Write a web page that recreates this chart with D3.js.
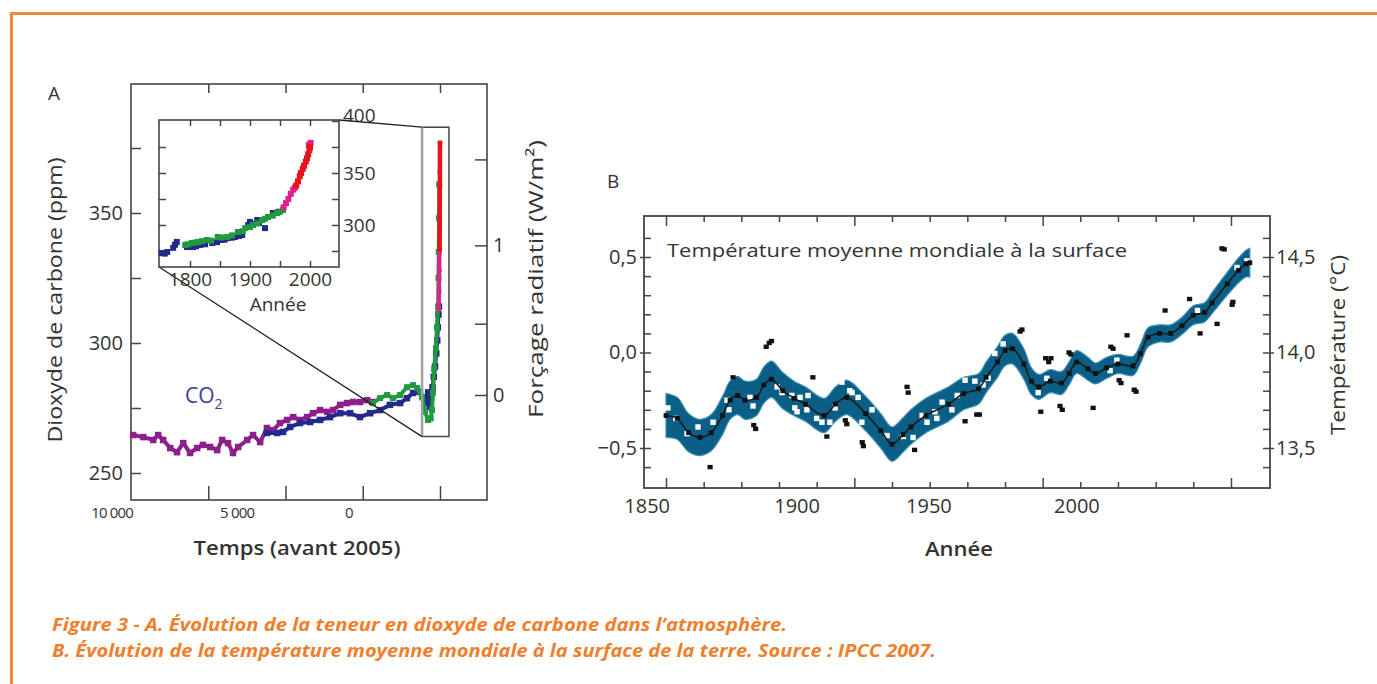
<!DOCTYPE html>
<html>
<head>
<meta charset="utf-8">
<script src="https://cdn.jsdelivr.net/npm/d3@7"></script>
<style>
  body { margin: 0; background: #fff; }
  svg text { font-family: "Open Sans", "Noto Sans", sans-serif; fill: #333; }
</style>
</head>
<body>
<svg id="chart" width="1377" height="684"></svg>
<script>
// ---------- Data: panel A (CO2, years before 2005 / ppm) ----------
const co2Purple = [[9930,264.6],[9600,263.8],[9280,262.7],[9120,264.6],[8960,262.7],[8730,259.6],[8510,258],[8310,261.5],
  [8090,257.7],[7860,259.6],[7670,260.8],[7440,260],[7210,258.8],[7050,262.7],[6860,261.5],[6700,257.7],[6530,260],
  [6240,262.7],[6050,264.6],[5820,261.9],[5600,267.3],[5400,266.5],[5180,269.2],[4950,270.4],[4750,271.5],[4530,270.4],
  [4300,271.5],[4110,273],[3880,274.2],[3650,273.5],[3460,274.2],[3230,276.2],[3010,276.9],[2810,277.3],[2590,277.3],
  [2360,278],[2200,277.3]];
const co2Blue = [[5600,265.4],[5270,265.4],[5080,265.8],[4850,267.7],[4530,269.2],[4200,269.6],[3880,270.4],[3560,271.5],
  [3230,273],[2910,273],[2590,271.5],[2260,273],[1940,274.2],[1620,276.2],[1290,276.9],[1070,278.8],[870,280.8],
  [650,281.2],[550,279.2],[480,277],[420,276.9],[380,281],[330,275.4],[290,279],[240,283],[200,287],[160,291],
  [120,296],[90,301],[70,306],[50,311],[35,314]];
const co2Green = [[2170,276.9],[1940,278.8],[1710,280],[1520,278.8],[1290,280],[1070,283],[870,283.8],[740,282.7],
  [580,279.2],[485,273.5],[390,270.4],[300,271],[260,274.2],[230,280.8],[190,290],[130,298],[100,306],[60,314],
  [50,325],[40,335],[30,348],[25,361]];
const co2Pink = [[40,313],[30,320],[22,328],[14,336]];
const co2Red = [[12,336],[9,346],[6,356],[3,366],[0,377]];

const co2TickValues = [7500, 5000, 2500, 0];
const co2TickLabels = ["10 000", "5 000", "0"];
const co2TickLabelAt = [10610, 6565, 2945];
const ppmTicks = [250, 275, 300, 325, 350, 375];
const forcingTicks = [0, 0.5, 1, 1.5];
const forcingLabels = ["0", "", "1", ""];

// inset (year / ppm)
const insetBlue = [[1753,273],[1758,272.5],[1762,274],[1772,278],[1775,281],[1778,283.7],[1795,278.8],[1800,280],
  [1805,278.8],[1810,279.5],[1817,280.8],[1825,281.5],[1837,282.7],[1845,283.5],[1853,285.6],[1858,286],[1863,287.5],
  [1870,287.8],[1875,288.5],[1882,289.5],[1887,290.4],[1897,300],[1900,303],[1905,301],[1912,304.8],[1915,302],
  [1925,297],[1938,311.5],[1947,312.5]];
const insetGreen = [[1792,280.8],[1797,281.5],[1803,282.7],[1808,283],[1813,283.7],[1820,284.5],[1828,285.6],[1835,285],
  [1846,288.5],[1852,288],[1862,288.5],[1870,290],[1880,293.3],[1888,294],[1892,297],[1900,298],[1905,300],
  [1913,301.5],[1920,304.8],[1925,306],[1930,307.7],[1938,309],[1945,311.5],[1950,313],[1955,314.4]];
const insetPink = [[1956,317],[1960,321],[1964,325],[1968,330],[1972,334],[1975,336],[1998,377],[2001,379]];
const insetRed = [[1977,338],[1980,342],[1983,347],[1985,350],[1988,354],[1990,357],[1993,361],[1995,364],
  [1997,368],[1999,372],[2000,375]];
const insetYearTicks = [1800, 1850, 1900, 1950, 2000];
const insetPpmTicks = [275, 300, 325, 350, 375, 400];

// ---------- Data: panel B (temperature anomaly) ----------
const tempYears = [1850,1853,1856,1859,1862,1865,1867,1869,1871,1874,1876,1878,1881,1884,1887,1892,1895,1898,1903,1907,
  1910,1913,1915,1919,1925,1929,1933,1935,1938,1940,1942,1945,1947,1949,1952,1955,1957,1959,1962,1964,1967,1970,
  1974,1976,1978,1981,1984,1987,1990,1993,1995,1999,2002,2004,2005];
const tempSmooth = [-0.33,-0.345,-0.42,-0.445,-0.42,-0.33,-0.25,-0.225,-0.25,-0.235,-0.17,-0.14,-0.2,-0.24,-0.27,-0.33,
  -0.27,-0.235,-0.32,-0.41,-0.48,-0.43,-0.39,-0.33,-0.27,-0.215,-0.19,-0.13,-0.05,0.01,0.02,-0.06,-0.15,-0.18,-0.15,
  -0.16,-0.11,-0.05,-0.085,-0.11,-0.08,-0.06,-0.07,-0.005,0.08,0.10,0.10,0.14,0.195,0.21,0.26,0.36,0.43,0.465,0.47];
const tempBand = [0.115,0.11,0.1,0.095,0.095,0.1,0.1,0.1,0.1,0.095,0.095,0.095,0.095,0.09,0.09,0.09,0.09,0.09,0.09,0.09,
  0.09,0.09,0.09,0.09,0.09,0.085,0.08,0.08,0.08,0.08,0.08,0.08,0.07,0.065,0.06,0.06,0.06,0.06,0.06,0.055,0.055,0.05,
  0.05,0.05,0.05,0.045,0.045,0.045,0.05,0.05,0.055,0.06,0.065,0.07,0.075];
const tempWhite = [[1850.5,-0.29],[1852.6,-0.345],[1855.6,-0.425],[1858.5,-0.39],[1862.5,-0.365],[1866.2,-0.25],
  [1866.7,-0.30],[1872.3,-0.235],[1873.1,-0.28],[1879.5,-0.18],[1880.8,-0.21],[1883.4,-0.225],[1884.2,-0.29],
  [1884.8,-0.31],[1885.6,-0.235],[1887.4,-0.30],[1887.7,-0.225],[1890,-0.345],[1891.4,-0.365],[1893.5,-0.365],
  [1894.9,-0.29],[1896.7,-0.155],[1898.8,-0.20],[1899.4,-0.21],[1901,-0.235],[1902,-0.365],[1904.7,-0.30],
  [1908.7,-0.435],[1913,-0.44],[1915.6,-0.445],[1918,-0.33],[1919.3,-0.365],[1921.4,-0.31],[1921.9,-0.345],
  [1923.3,-0.26],[1925.9,-0.30],[1927.3,-0.225],[1929.4,-0.145],[1932,-0.15],[1934.2,-0.17],[1935.5,-0.135],
  [1937.3,-0.005],[1939.5,0.045],[1948.8,-0.21],[1951.1,-0.135],[1967.9,-0.095],[1969.7,-0.04],[1991.1,0.22],
  [2001.6,0.445],[2004.2,0.48]];
const tempBlack = [[1861.7,-0.60],[1867.8,-0.13],[1873.3,-0.38],[1873.8,-0.40],[1876.6,0.03],[1877.4,0.05],[1878,0.06],
  [1889,-0.13],[1892.7,-0.44],[1897.6,-0.355],[1898,-0.375],[1902.1,-0.47],[1902.4,-0.49],[1914,-0.18],[1914.3,-0.21],
  [1916,-0.51],[1929.4,-0.36],[1932.5,-0.325],[1933.2,-0.325],[1944,0.11],[1944.5,0.12],[1949.5,-0.31],[1950.8,-0.03],
  [1951.6,-0.05],[1952.2,-0.03],[1954.6,-0.28],[1955.2,-0.30],[1957,0.0],[1957.5,-0.01],[1963.4,-0.29],[1968.1,0.03],
  [1968.7,0.02],[1970.3,-0.145],[1970.8,-0.16],[1972.4,0.09],[1974.3,-0.195],[1974.8,-0.205],[1982.5,0.22],[1989,0.28],
  [1991.8,0.10],[1996.3,0.15],[1997.6,0.545],[1998.2,0.54],[2000.3,0.25],[2000.5,0.265]];
const yearTicks = [1850,1860,1870,1880,1890,1900,1910,1920,1930,1940,1950,1960,1970,1980,1990,2000];
const tempTickLabels = ["1850", "1900", "1950", "2000"];
const tempTickLabelAt = [1845, 1884.8, 1919.8, 1959.1];
const anomalyTicks = [-0.6,-0.5,-0.4,-0.3,-0.2,-0.1,0,0.1,0.2,0.3,0.4,0.5,0.6];
const celsiusTicks = [13.4,13.5,13.6,13.7,13.8,13.9,14.0,14.1,14.2,14.3,14.4,14.5,14.6];

// ---------- Drawing ----------
const svg = d3.select("#chart");
const grey = "#454545";
const FONT = '"Open Sans", "Noto Sans", sans-serif';
const comma = d => d3.format(".1f")(d).replace(".", ",").replace("-", "\u2212");
const isHalf = d => Math.abs(d * 2 - Math.round(d * 2)) < 1e-6;

function tidy(g, fs) {
    g.attr("font-family", FONT).attr("font-size", fs || 19);
    g.select(".domain").remove();
    g.selectAll(".tick line").attr("stroke", grey).attr("stroke-width", 1.5);
    g.selectAll(".tick text").attr("fill", "#333");
}

// orange frame
svg.append("path")
   .attr("d", "M11.5,684 V13.5 H1377")
   .attr("fill", "none")
   .attr("stroke", "#f0883a")
   .attr("stroke-width", 3);

// ===== Panel A =====
const A = { left: 131, right: 487, top: 84, bottom: 500 };
const xA = d3.scaleLinear().domain([10000, 0]).range([131, 440]);
const yA = d3.scaleLinear().domain([250, 400]).range([473, 83]);
const ppmFromForcing = f => 280 * Math.exp(f / 5.35);

svg.append("text").attr("x", 48).attr("y", 100).style("font-size", "19px").text("A");

svg.append("rect")
   .attr("x", A.left).attr("y", A.top)
   .attr("width", A.right - A.left).attr("height", A.bottom - A.top)
   .attr("fill", "none").attr("stroke", grey).attr("stroke-width", 1.6);

svg.append("g").attr("transform", `translate(${A.left},0)`)
   .call(d3.axisLeft(yA).tickValues(ppmTicks).tickSizeInner(-10).tickSizeOuter(0).tickPadding(8)
          .tickFormat(d => d % 50 === 0 ? d : ""))
   .call(g => tidy(g, 20));

svg.append("g").attr("transform", `translate(${A.right},0)`)
   .call(d3.axisRight(yA).tickValues(forcingTicks.map(ppmFromForcing)).tickSizeInner(-12).tickSizeOuter(0)
          .tickPadding(6).tickFormat((d, i) => forcingLabels[i]))
   .call(g => tidy(g, 20));

svg.append("g").attr("transform", `translate(0,${A.top})`)
   .call(d3.axisTop(xA).tickValues(co2TickValues).tickSizeInner(-9).tickSizeOuter(0).tickFormat(""))
   .call(g => tidy(g));

svg.append("g").attr("transform", `translate(0,${A.bottom})`)
   .call(d3.axisBottom(xA).tickValues(co2TickValues).tickSizeInner(-14).tickSizeOuter(0).tickFormat(""))
   .call(g => tidy(g));

svg.selectAll(".co2-lab")
   .data(co2TickLabels)
   .enter().append("text")
   .attr("class", "co2-lab")
   .attr("x", (d, i) => xA(co2TickLabelAt[i]))
   .attr("y", 518)
   .attr("text-anchor", "middle")
   .style("font-size", "15px")
   .style("letter-spacing", "-0.8px")
   .text(d => d);

// axis titles A
svg.append("text")
   .attr("transform", "translate(62,300) rotate(-90)")
   .attr("text-anchor", "middle")
   .attr("textLength", 285).attr("lengthAdjust", "spacingAndGlyphs")
   .style("font-size", "20px")
   .text("Dioxyde de carbone (ppm)");

svg.append("text")
   .attr("transform", "translate(543,279) rotate(-90)")
   .attr("text-anchor", "middle")
   .attr("textLength", 278).attr("lengthAdjust", "spacingAndGlyphs")
   .style("font-size", "20px")
   .text("Forçage radiatif (W/m²)");

svg.append("text")
   .attr("x", 297).attr("y", 555)
   .attr("text-anchor", "middle")
   .attr("textLength", 207).attr("lengthAdjust", "spacingAndGlyphs")
   .style("font-size", "20px").style("font-weight", 600)
   .text("Temps (avant 2005)");

const co2Label = svg.append("text")
   .attr("x", 185).attr("y", 403)
   .style("font-size", "21px")
   .style("fill", "#3b3b9b");
co2Label.append("tspan").text("CO");
co2Label.append("tspan").attr("dy", 6).style("font-size", "14px").text("2");

// CO2 series (squares, optionally joined)
function drawSeries(data, color, xs, ys, lineWidth, size) {
    if (lineWidth) {
        svg.append("path")
           .datum(data)
           .attr("fill", "none")
           .attr("stroke", color)
           .attr("stroke-width", lineWidth)
           .attr("d", d3.line().x(d => xs(d[0])).y(d => ys(d[1])));
    }
    svg.append("g").selectAll("rect")
       .data(data)
       .enter().append("rect")
       .attr("x", d => xs(d[0]) - size / 2)
       .attr("y", d => ys(d[1]) - size / 2)
       .attr("width", size).attr("height", size)
       .attr("fill", color);
}

drawSeries(co2Purple, "#8c1f8c", xA, yA, 4, 6.5);
drawSeries(co2Blue, "#25298c", xA, yA, 4, 6.5);
drawSeries(co2Green, "#1f9a3e", xA, yA, 4, 6);
drawSeries(co2Pink, "#e0208c", xA, yA, 4, 4.5);
drawSeries(co2Red, "#e8141c", xA, yA, 4.5, 4.5);

// zoom box in main plot
const zb = { l: xA(580), r: xA(-290), t: yA(383), b: yA(264) };
svg.append("path")
   .attr("d", `M${zb.l},${zb.t} H${zb.r} V${zb.b} H${zb.l}`)
   .attr("fill", "none").attr("stroke", grey).attr("stroke-width", 1.5);
svg.append("line")
   .attr("x1", zb.l).attr("x2", zb.l).attr("y1", zb.t).attr("y2", zb.b)
   .attr("stroke", "#a0a0a0").attr("stroke-width", 2.5);

// ===== Inset =====
const I = { left: 159, right: 339, top: 120, bottom: 267 };
const xI = d3.scaleLinear().domain([1800, 2000]).range([190, 310]);
const yI = d3.scaleLinear().domain([300, 400]).range([225, 121]);

// connectors
svg.append("line").attr("x1", I.right).attr("y1", I.top).attr("x2", zb.l).attr("y2", zb.t)
   .attr("stroke", "#222").attr("stroke-width", 1.3);
svg.append("line").attr("x1", I.left).attr("y1", I.bottom).attr("x2", zb.l).attr("y2", zb.b)
   .attr("stroke", "#222").attr("stroke-width", 1.3);

svg.append("rect")
   .attr("x", I.left).attr("y", I.top)
   .attr("width", I.right - I.left).attr("height", I.bottom - I.top)
   .attr("fill", "#fff").attr("stroke", grey).attr("stroke-width", 1.6);

svg.append("g").attr("transform", `translate(${I.left},0)`)
   .call(d3.axisLeft(yI).tickValues(insetPpmTicks.slice(0, 5)).tickSizeInner(-7).tickSizeOuter(0).tickFormat(""))
   .call(g => tidy(g));

svg.append("g").attr("transform", `translate(${I.right},0)`)
   .call(d3.axisRight(yI).tickValues(insetPpmTicks).tickSizeInner(-7).tickSizeOuter(0).tickPadding(4)
          .tickFormat(d => d % 50 === 0 ? d : ""))
   .call(g => tidy(g, 19))
   .call(g => g.selectAll(".tick text").filter(d => d === 400).attr("dy", "0.05em"));

svg.append("g").attr("transform", `translate(0,${I.top})`)
   .call(d3.axisTop(xI).tickValues(insetYearTicks).tickSizeInner(-6).tickSizeOuter(0).tickFormat(""))
   .call(g => tidy(g));

svg.append("g").attr("transform", `translate(0,${I.bottom})`)
   .call(d3.axisBottom(xI).tickValues(insetYearTicks).tickSizeInner(-6).tickSizeOuter(0).tickPadding(5)
          .tickFormat(d => d % 100 === 0 ? d : ""))
   .call(g => tidy(g, 19));

svg.append("text")
   .attr("x", 278).attr("y", 311)
   .attr("text-anchor", "middle")
   .style("font-size", "19px")
   .text("Année");

drawSeries(insetBlue, "#25298c", xI, yI, 0, 6);
drawSeries(insetGreen, "#1f9a3e", xI, yI, 0, 6);
drawSeries(insetPink, "#e0208c", xI, yI, 0, 6);
drawSeries(insetRed, "#e8141c", xI, yI, 0, 6);

// ===== Panel B =====
const B = { left: 644, right: 1270, top: 216, bottom: 488 };
const xB = d3.scaleLinear().domain([1850, 2000]).range([666, 1231]);
const yB = d3.scaleLinear().domain([-0.5, 0.5]).range([448, 257]);
const yC = yB.copy().domain([13.5, 14.5]);

svg.append("text").attr("x", 607).attr("y", 188).style("font-size", "19px").text("B");

const tempData = tempYears.map((y, i) => ({ year: y, v: tempSmooth[i], h: tempBand[i] }));

svg.append("path")
   .datum(tempData)
   .attr("fill", "#0b5f86")
   .attr("stroke", "#3f8fb5")
   .attr("stroke-width", 1.2)
   .attr("d", d3.area().curve(d3.curveCatmullRom)
       .x(d => xB(d.year)).y0(d => yB(d.v - d.h)).y1(d => yB(d.v + d.h)));

svg.append("g").selectAll("rect")
   .data(tempWhite)
   .enter().append("rect")
   .attr("x", d => xB(d[0]) - 2.7).attr("y", d => yB(d[1]) - 2.7)
   .attr("width", 5.4).attr("height", 5.4)
   .attr("fill", "#fff");

svg.append("path")
   .datum(tempData)
   .attr("fill", "none")
   .attr("stroke", "#1a1a1a")
   .attr("stroke-width", 1.6)
   .attr("d", d3.line().curve(d3.curveCatmullRom).x(d => xB(d.year)).y(d => yB(d.v)));

svg.append("g").selectAll("rect")
   .data(tempData)
   .enter().append("rect")
   .attr("x", d => xB(d.year) - 2.4).attr("y", d => yB(d.v) - 2.4)
   .attr("width", 4.8).attr("height", 4.8)
   .attr("fill", "#111");

svg.append("g").selectAll("rect")
   .data(tempBlack)
   .enter().append("rect")
   .attr("x", d => xB(d[0]) - 2.6).attr("y", d => yB(d[1]) - 2.2)
   .attr("width", 5.2).attr("height", 4.4)
   .attr("fill", "#111");

svg.append("rect")
   .attr("x", B.left).attr("y", B.top)
   .attr("width", B.right - B.left).attr("height", B.bottom - B.top)
   .attr("fill", "none").attr("stroke", grey).attr("stroke-width", 1.8);

svg.append("g").attr("transform", `translate(${B.left},0)`)
   .call(d3.axisLeft(yB).tickValues(anomalyTicks).tickSizeInner(-7).tickSizeOuter(0).tickPadding(7)
          .tickFormat(d => isHalf(d) ? comma(d) : ""))
   .call(g => tidy(g, 20))
   .call(g => g.selectAll(".tick line").attr("x1", d => isHalf(d) ? -4 : 0));

svg.append("g").attr("transform", `translate(${B.right},0)`)
   .call(d3.axisRight(yC).tickValues(celsiusTicks).tickSizeInner(-7).tickSizeOuter(0).tickPadding(6)
          .tickFormat(d => isHalf(d) ? comma(d) : ""))
   .call(g => tidy(g, 20))
   .call(g => g.selectAll(".tick line").attr("x1", d => isHalf(d) ? 4 : 0));

svg.append("g").attr("transform", `translate(0,${B.top})`)
   .call(d3.axisTop(xB).tickValues(yearTicks).tickSizeInner(-6).tickSizeOuter(0).tickFormat(""))
   .call(g => tidy(g))
   .call(g => g.selectAll(".tick line").attr("y2", d => d % 50 === 0 ? 10 : 6));

svg.append("g").attr("transform", `translate(0,${B.bottom})`)
   .call(d3.axisBottom(xB).tickValues(yearTicks).tickSizeInner(-6).tickSizeOuter(0).tickFormat(""))
   .call(g => tidy(g))
   .call(g => g.selectAll(".tick line").attr("y2", d => d % 50 === 0 ? -10 : -6));

svg.selectAll(".year-lab")
   .data(tempTickLabels)
   .enter().append("text")
   .attr("class", "year-lab")
   .attr("x", (d, i) => xB(tempTickLabelAt[i]))
   .attr("y", 513)
   .attr("text-anchor", "middle")
   .style("font-size", "20px")
   .text(d => d);

svg.append("text")
   .attr("x", 667).attr("y", 257)
   .attr("textLength", 460).attr("lengthAdjust", "spacingAndGlyphs")
   .style("font-size", "19px")
   .text("Température moyenne mondiale à la surface");

svg.append("text")
   .attr("x", 959).attr("y", 556)
   .attr("text-anchor", "middle")
   .attr("textLength", 68).attr("lengthAdjust", "spacingAndGlyphs")
   .style("font-size", "20px").style("font-weight", 600)
   .text("Année");

svg.append("text")
   .attr("transform", "translate(1345,345) rotate(-90)")
   .attr("text-anchor", "middle")
   .attr("textLength", 180).attr("lengthAdjust", "spacingAndGlyphs")
   .style("font-size", "20px")
   .text("Température (°C)");

// ===== Caption =====
const caption = [
    "Figure 3 - A. Évolution de la teneur en dioxyde de carbone dans l’atmosphère.",
    "B. Évolution de la température moyenne mondiale à la surface de la terre. Source : IPCC 2007."
];
const captionWidth = [735, 884];
svg.selectAll(".caption")
   .data(caption)
   .enter().append("text")
   .attr("class", "caption")
   .attr("x", 52)
   .attr("y", (d, i) => 631 + i * 26)
   .attr("textLength", (d, i) => captionWidth[i])
   .attr("lengthAdjust", "spacingAndGlyphs")
   .style("font-size", "17px")
   .style("font-weight", "bold")
   .style("font-style", "italic")
   .style("fill", "#ef7f2d")
   .text(d => d);
</script>
</body>
</html>
